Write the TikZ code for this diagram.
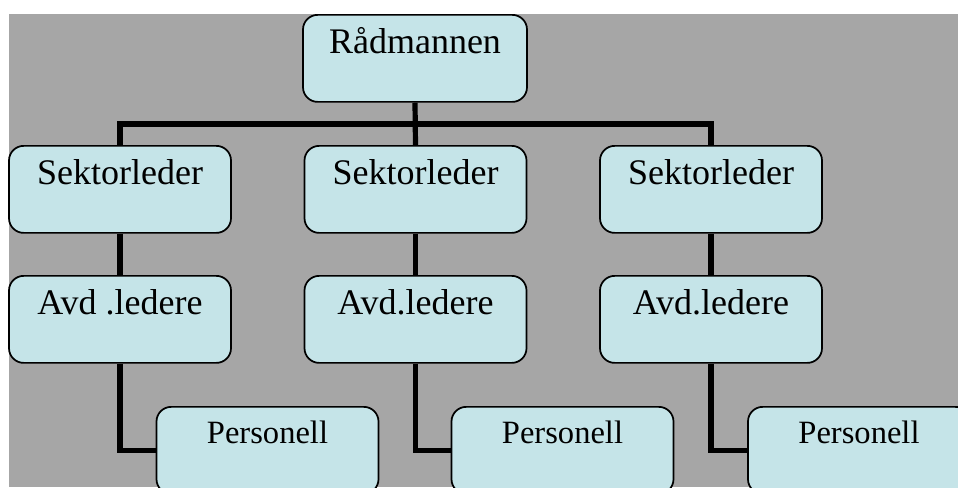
\documentclass[tikz,border=0pt]{standalone}
\usepackage{fontspec}
\setmainfont{Liberation Serif}
\usetikzlibrary{backgrounds}
\definecolor{boxfill}{HTML}{C5E4E8}
\definecolor{panel}{HTML}{A6A6A6}
\tikzset{
  orgbox/.style={draw=black, line width=1.3pt, fill=boxfill, rounded corners=11pt,
    anchor=north, inner sep=0pt, minimum width=166.5pt, align=center,
    text height=29pt, text depth=36.25pt,
    font=\fontsize{27pt}{32pt}\selectfont},
  staffbox/.style={orgbox, text height=27.5pt, text depth=37.75pt,
    font=\fontsize{24.4pt}{29pt}\selectfont},
  link/.style={line width=3.9pt, line join=miter, draw=black}
}
\begin{document}
\begin{tikzpicture}[x=0.75pt, y=-0.75pt]
  \useasboundingbox (0,0) rectangle (958,487);
  \clip (0,0) rectangle (958,487);

  % chart boxes (centre x, top y)
  \node[orgbox, minimum width=168pt] (R) at (415,14) {Rådmannen};
  \node[orgbox] (S1) at (120,145) {Sektorleder};
  \node[orgbox] (S2) at (415.5,145) {Sektorleder};
  \node[orgbox] (S3) at (711,145) {Sektorleder};
  \node[orgbox] (A1) at (120,275) {Avd .ledere};
  \node[orgbox] (A2) at (415.5,275) {Avd.ledere};
  \node[orgbox] (A3) at (711,275) {Avd.ledere};
  \node[staffbox] (P1) at (267.5,406) {Personell};
  \node[staffbox] (P2) at (562.5,406) {Personell};
  \node[staffbox] (P3) at (859,406) {Personell};

  \coordinate (bus) at (0,124);

  \begin{scope}[on background layer]
    % grey panel behind the chart
    \fill[white] (0,0) rectangle (958,487);
    \fill[panel] (9,14) rectangle (958,487);
    % connectors, underneath the boxes
    \draw[link] (S1.north) -- (S1.north |- bus) -- (S3.north |- bus) -- (S3.north);
    \draw[link] (R.south) -- (S2.north);
    \draw[link] (S1.south) -- (A1.north);
    \draw[link] (S2.south) -- (A2.north);
    \draw[link] (S3.south) -- (A3.north);
    \draw[link] (A1.south) |- (P1.west);
    \draw[link] (A2.south) |- (P2.west);
    \draw[link] (A3.south) |- (P3.west);
  \end{scope}
\end{tikzpicture}
\end{document}
